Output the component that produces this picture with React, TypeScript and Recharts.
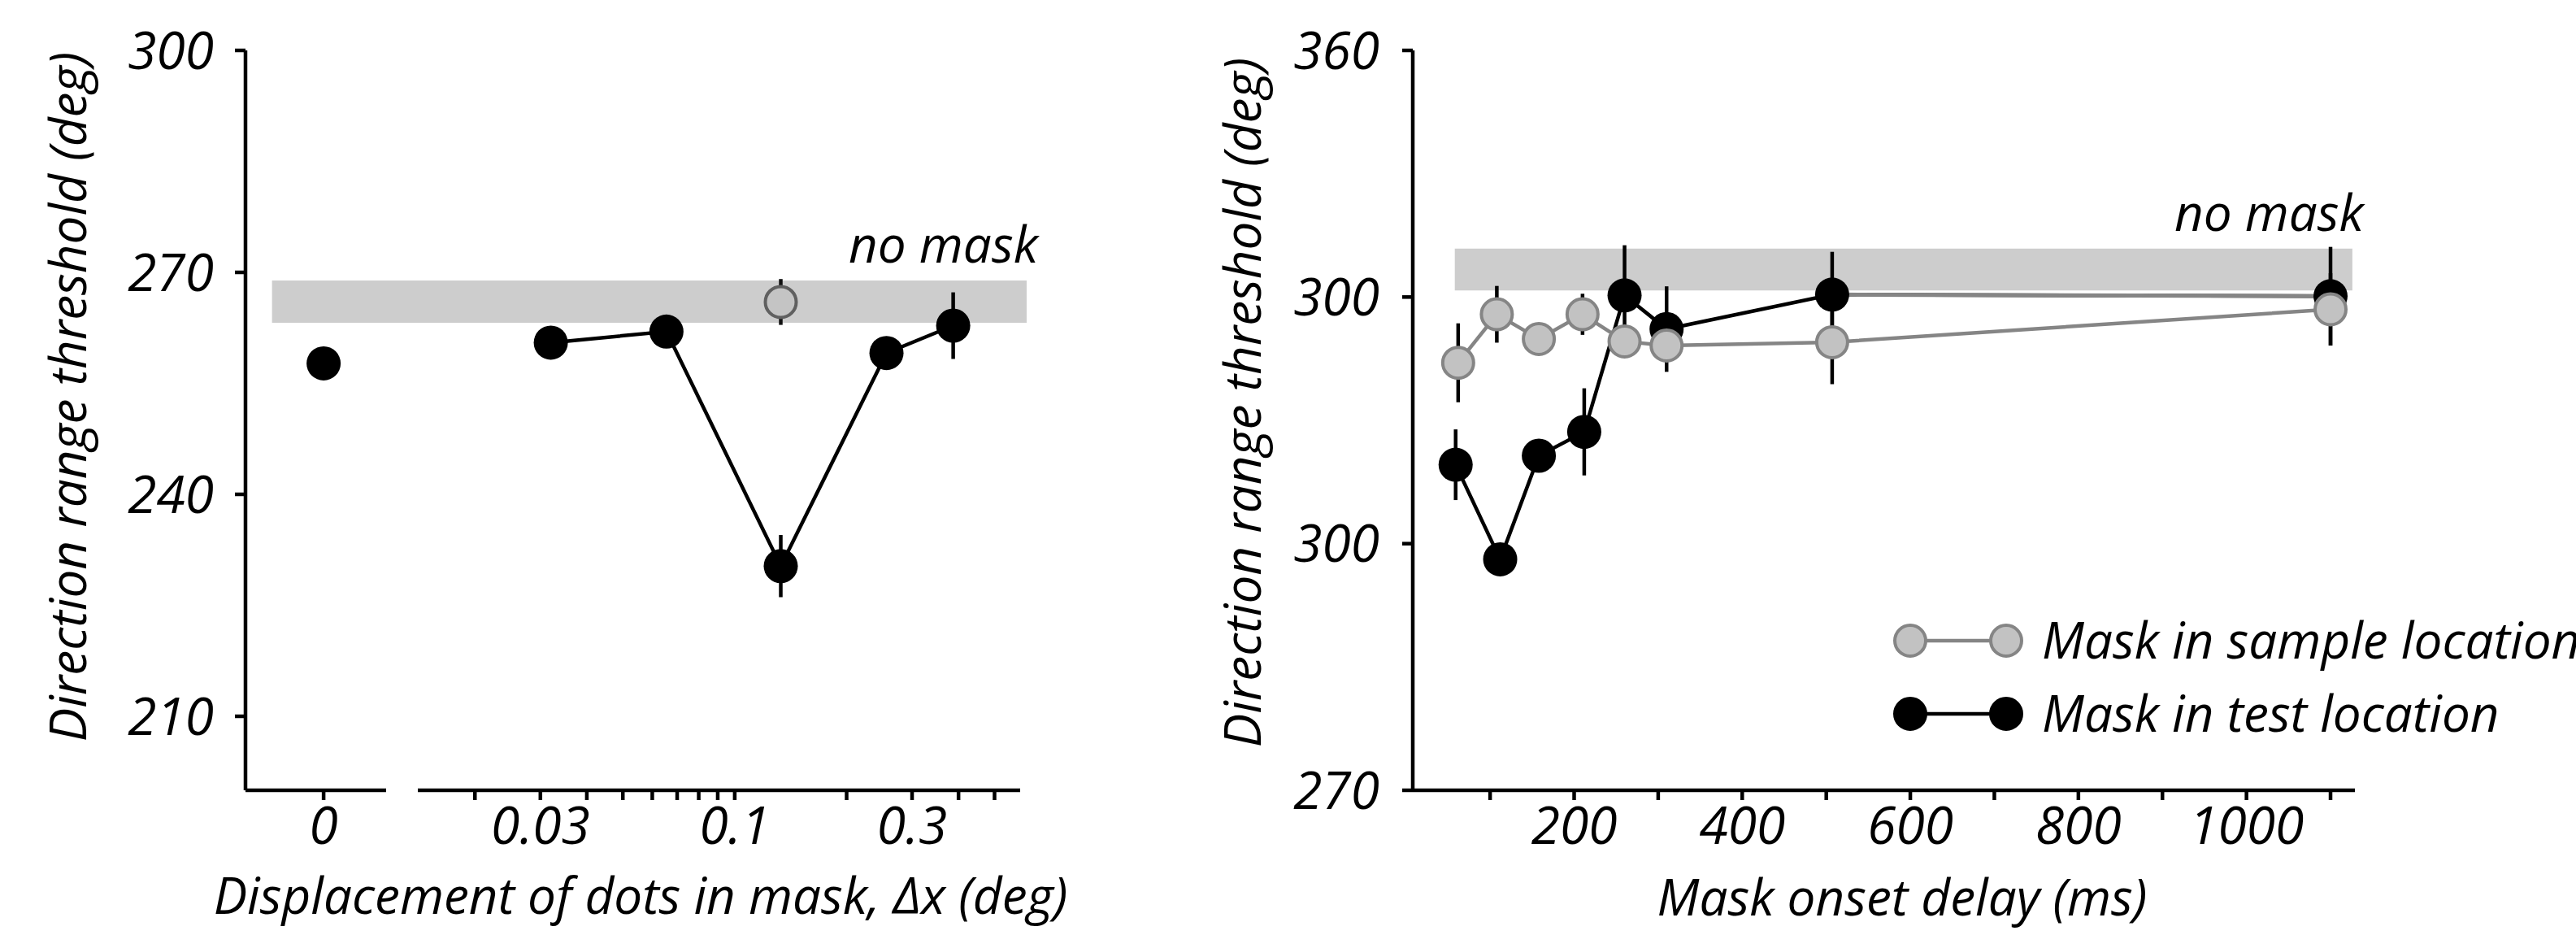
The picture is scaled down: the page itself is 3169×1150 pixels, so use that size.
// two-panel masking figure: threshold vs mask dot displacement (left, broken log axis)
// and threshold vs mask onset delay (right). values.
import React from "react";
import { ComposedChart, Line, XAxis, YAxis, ReferenceArea, ErrorBar } from "recharts";

const FONT = '"Open Sans", "DejaVu Sans", sans-serif';

// ---- left panel data ----
// the "0" displacement sits on its own little axis segment
const zeroDisplacement = [0];
const zeroThreshold = [257.7];

const displacements = [0.032, 0.0655, 0.133, 0.256, 0.387];
const displacementThreshold = [260.5, 262.0, 230.3, 259.1, 262.8];
const displacementErr = [0, 0, 4.2, 0, 4.5];

// single grey control point (mask in sample location)
const sampleDisplacement = [0.133];
const sampleDisplacementThreshold = [266.0];
const sampleDisplacementErr = [3.1];

const leftNoMaskBand = [263.2, 268.9];
const leftYTicks = [210, 240, 270, 300];
const logTicks = [0.02, 0.03, 0.04, 0.05, 0.06, 0.07, 0.08, 0.09, 0.1, 0.2, 0.3, 0.4, 0.5];
const logTickLabels = [0.03, 0.1, 0.3];

// ---- right panel data ----
const sampleDelays = [62, 108, 158, 210, 260, 310, 507, 1100];
const sampleThreshold = [322.0, 327.9, 324.9, 327.9, 324.6, 324.1, 324.5, 328.5];
const sampleErr = [4.8, 3.45, 1.5, 2.5, 1.5, 1.5, 5.1, 4.4];

const testDelays = [59, 112, 158, 212, 260, 310, 507, 1100];
const testThreshold = [309.6, 298.1, 310.7, 313.6, 330.2, 326.1, 330.3, 330.1];
const testErr = [4.3, 1.5, 1.5, 5.3, 6.1, 5.2, 5.2, 6.0];

const rightNoMaskBand = [330.8, 335.9];
// the printed figure labels its ticks like this (sic)
const rightYTicks = [270, 300, 330, 360];
const rightYTickLabels = ["270", "300", "300", "360"];
const delayTicks = [100, 200, 300, 400, 500, 600, 700, 800, 900, 1000, 1100];
const delayTickLabels = [200, 400, 600, 800, 1000];

const legendItems = [
  { name: "Mask in sample location", fill: "#c2c2c2", stroke: "#858585", line: "#858585" },
  { name: "Mask in test location", fill: "#000", stroke: "#000", line: "#000" },
];

// tables for recharts
const zeroData = zeroDisplacement.map((x, i) => ({ x, y: zeroThreshold[i] }));
const dispData = displacements.map((x, i) => ({ x, y: displacementThreshold[i], e: displacementErr[i] }));
const dispSampleData = sampleDisplacement.map((x, i) => ({
  x,
  y: sampleDisplacementThreshold[i],
  e: sampleDisplacementErr[i],
}));
const sampleData = sampleDelays.map((x, i) => ({ x, y: sampleThreshold[i], e: sampleErr[i] }));
const testData = testDelays.map((x, i) => ({ x, y: testThreshold[i], e: testErr[i] }));
// in the original the last segment of the test curve is drawn grey
const testTail = testData.slice(-2);

const axisStroke = { stroke: "#000", strokeWidth: 4.5 };
const tickFont = { fill: "#000", fontSize: 64, fontStyle: "italic", fontFamily: FONT };
const titleFont = { fill: "#000", fontSize: 62, fontStyle: "italic", fontFamily: FONT };

const yTitle = (x: number, y: number) => () =>
  (
    <text x={x} y={y} transform={`rotate(-90 ${x} ${y})`} textAnchor="middle" style={titleFont}>
      Direction range threshold (deg)
    </text>
  );

const noMaskLabel = (props: any) => {
  const vb = props.viewBox || {};
  return (
    <text x={vb.x + vb.width + 14} y={vb.y - 22} textAnchor="end" style={titleFont}>
      no mask
    </text>
  );
};

export default function App() {
  return (
    <div style={{ position: "absolute", left: 0, top: 0, width: 3169, height: 1150, background: "#fff" }}>
      {/* left panel, log segment (drawn first so the band sits under the zero segment's axis) */}
      <div style={{ position: "absolute", left: 0, top: 0 }}>
        <ComposedChart width={1400} height={1150} margin={{ top: 62, right: 145, bottom: 0, left: 514 }}>
          <XAxis
            dataKey="x"
            type="number"
            scale="log"
            domain={[0.01404, 0.586]}
            allowDataOverflow
            ticks={logTicks}
            interval={0}
            tickFormatter={(v: number) => (logTickLabels.includes(v) ? String(v) : "")}
            height={178}
            tickSize={12}
            tickMargin={9}
            axisLine={axisStroke}
            tickLine={axisStroke}
            tick={tickFont}
            label={() => (
              <text x={788} y={1124} textAnchor="middle" style={titleFont}>
                Displacement of dots in mask, Δx (deg)
              </text>
            )}
          />
          <YAxis type="number" hide domain={[200, 300]} />
          <ReferenceArea
            x1={0.00569}
            x2={0.61}
            y1={leftNoMaskBand[0]}
            y2={leftNoMaskBand[1]}
            fill="#cdcdcd"
            fillOpacity={1}
            stroke="none"
            ifOverflow="visible"
            label={noMaskLabel}
          />
          <Line
            data={dispData}
            dataKey="y"
            stroke="#000"
            strokeWidth={4.5}
            dot={{ r: 21, fill: "#000", stroke: "#000", strokeWidth: 0 }}
            isAnimationActive={false}
          >
            <ErrorBar dataKey="e" width={0} stroke="#000" strokeWidth={4.5} direction="y" />
          </Line>
          <Line
            data={dispSampleData}
            dataKey="y"
            stroke="none"
            dot={{ r: 19, fill: "#c4c4c4", stroke: "#606060", strokeWidth: 4 }}
            isAnimationActive={false}
          >
            <ErrorBar dataKey="e" width={0} stroke="#111" strokeWidth={4.5} direction="y" />
          </Line>
        </ComposedChart>
      </div>

      {/* left panel, zero segment with the y axis */}
      <div style={{ position: "absolute", left: 0, top: 0 }}>
        <ComposedChart width={480} height={1150} data={zeroData} margin={{ top: 62, right: 5, bottom: 0, left: 0 }}>
          <XAxis
            dataKey="x"
            type="number"
            domain={[-1, 0.8]}
            ticks={[0]}
            interval={0}
            height={178}
            tickSize={12}
            tickMargin={9}
            axisLine={axisStroke}
            tickLine={axisStroke}
            tick={tickFont}
          />
          <YAxis
            type="number"
            domain={[200, 300]}
            ticks={leftYTicks}
            interval={0}
            width={302}
            tickSize={13}
            tickMargin={26}
            axisLine={axisStroke}
            tickLine={axisStroke}
            tick={tickFont}
            label={yTitle(106, 488)}
          />
          <Line
            dataKey="y"
            stroke="none"
            dot={{ r: 21, fill: "#000", stroke: "#000", strokeWidth: 0 }}
            isAnimationActive={false}
          />
        </ComposedChart>
      </div>

      {/* right panel */}
      <div style={{ position: "absolute", left: 1400, top: 0 }}>
        <ComposedChart width={1769} height={1150} margin={{ top: 62, right: 272, bottom: 0, left: 0 }}>
          <XAxis
            dataKey="x"
            type="number"
            domain={[8, 1129]}
            ticks={delayTicks}
            interval={0}
            tickFormatter={(v: number) => (delayTickLabels.includes(v) ? String(v) : "")}
            height={178}
            tickSize={12}
            tickMargin={9}
            axisLine={axisStroke}
            tickLine={axisStroke}
            tick={tickFont}
            label={() => (
              <text x={940} y={1126} textAnchor="middle" style={titleFont}>
                Mask onset delay (ms)
              </text>
            )}
          />
          <YAxis
            type="number"
            domain={[270, 360]}
            ticks={rightYTicks}
            interval={0}
            tickFormatter={(v: number) => rightYTickLabels[rightYTicks.indexOf(v)]}
            width={338}
            tickSize={13}
            tickMargin={28}
            axisLine={axisStroke}
            tickLine={axisStroke}
            tick={tickFont}
            label={yTitle(151, 495)}
          />
          <ReferenceArea
            x1={58}
            x2={1126}
            y1={rightNoMaskBand[0]}
            y2={rightNoMaskBand[1]}
            fill="#cdcdcd"
            fillOpacity={1}
            stroke="none"
            label={noMaskLabel}
          />
          <Line
            data={testData}
            dataKey="y"
            stroke="#000"
            strokeWidth={4.5}
            dot={{ r: 21, fill: "#000", stroke: "#000", strokeWidth: 0 }}
            isAnimationActive={false}
          >
            <ErrorBar dataKey="e" width={0} stroke="#000" strokeWidth={4.5} direction="y" />
          </Line>
          <Line
            data={testTail}
            dataKey="y"
            stroke="#858585"
            strokeWidth={5}
            dot={false}
            isAnimationActive={false}
          />
          <Line
            data={sampleData}
            dataKey="y"
            stroke="#858585"
            strokeWidth={4.5}
            dot={{ r: 19, fill: "#c2c2c2", stroke: "#858585", strokeWidth: 4 }}
            isAnimationActive={false}
          >
            <ErrorBar dataKey="e" width={0} stroke="#000" strokeWidth={4.5} direction="y" />
          </Line>
        </ComposedChart>
      </div>

      {/* legend, sits inside the right panel's plot */}
      <svg
        width={869}
        height={200}
        style={{ position: "absolute", left: 2300, top: 740, overflow: "visible" }}
      >
        {legendItems.map((item, i) => {
          const cy = 48 + i * 90;
          return (
            <g key={item.name}>
              <line x1={50} x2={168} y1={cy} y2={cy} stroke={item.line} strokeWidth={4.5} />
              <circle cx={50} cy={cy} r={19} fill={item.fill} stroke={item.stroke} strokeWidth={4} />
              <circle cx={168} cy={cy} r={19} fill={item.fill} stroke={item.stroke} strokeWidth={4} />
              <text x={212} y={cy + 22} style={titleFont}>
                {item.name}
              </text>
            </g>
          );
        })}
      </svg>
    </div>
  );
}
